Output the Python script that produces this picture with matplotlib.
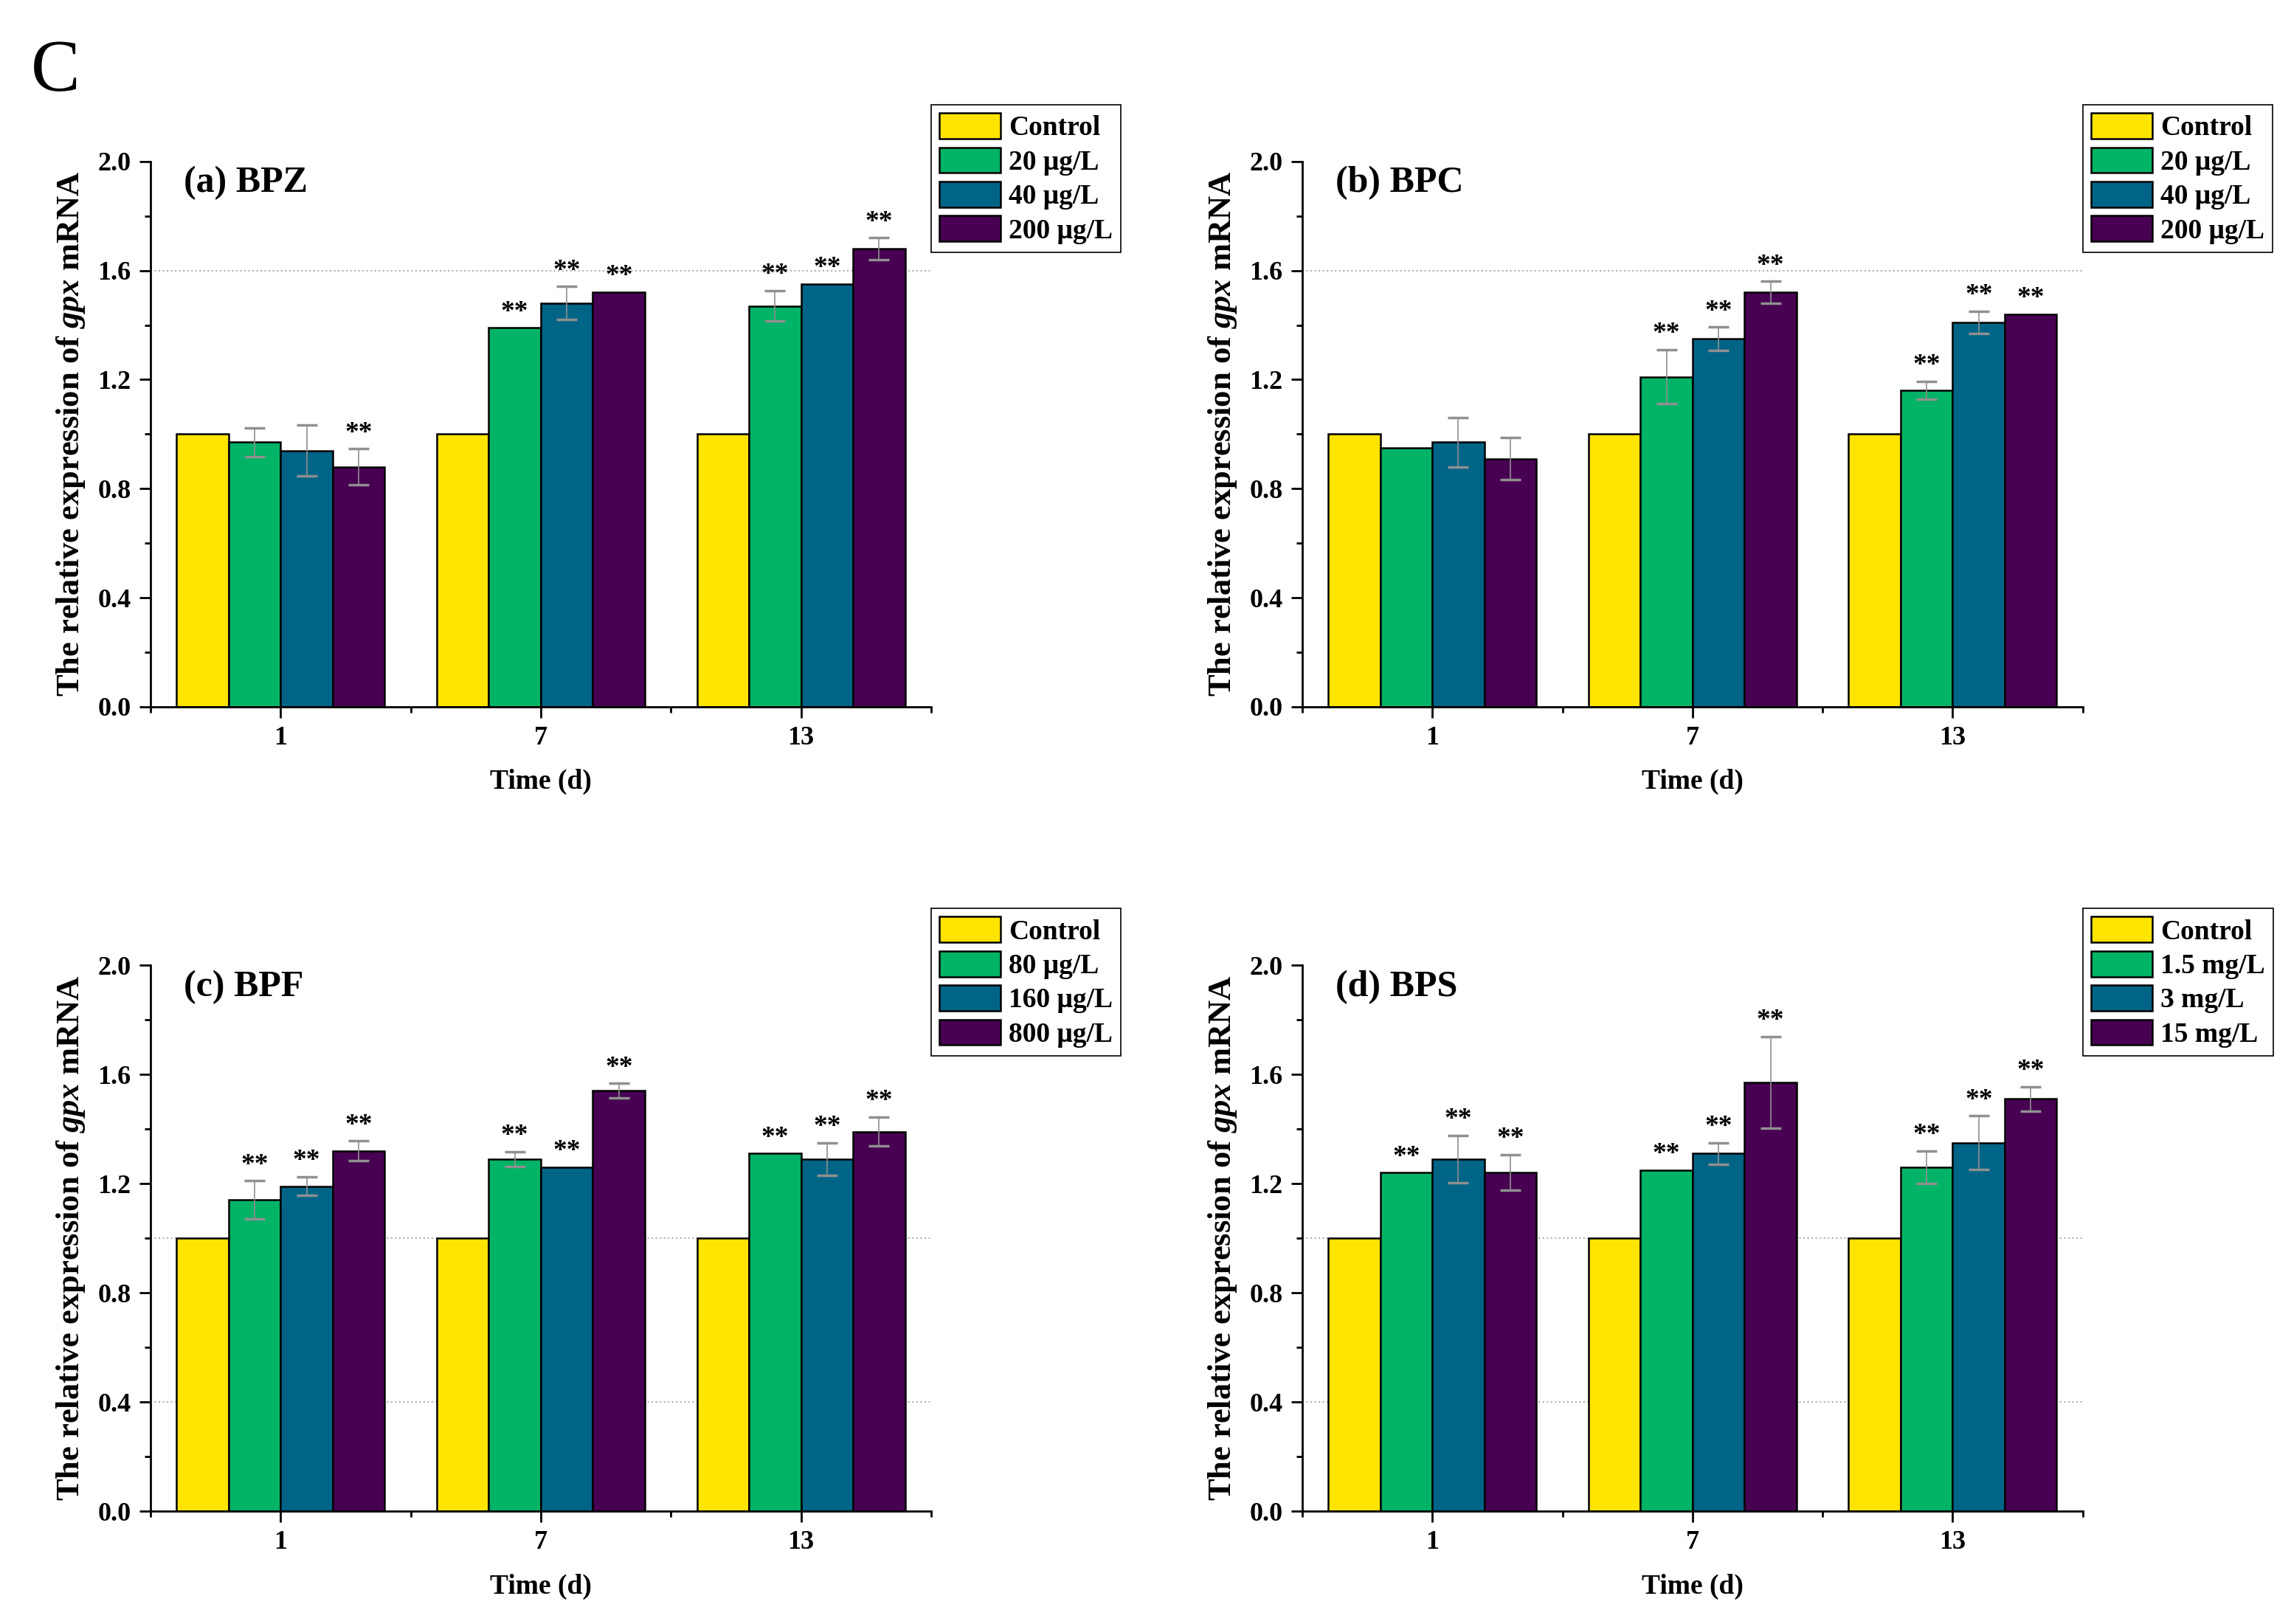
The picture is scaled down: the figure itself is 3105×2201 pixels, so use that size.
import numpy as np
import matplotlib.pyplot as plt

plt.rcParams['font.family'] = ['Liberation Serif', 'DejaVu Serif']
plt.rcParams['font.weight'] = 'bold'
plt.rcParams['mathtext.fontset'] = 'custom'
plt.rcParams['mathtext.it'] = 'Liberation Serif:bold:italic'
plt.rcParams['mathtext.rm'] = 'Liberation Serif:bold'

days = ['1', '7', '13']
colors = ['#FFE400', '#00B366', '#006487', '#480052']

# panel titles and legend labels
titles = ['(a) BPZ', '(b) BPC', '(c) BPF', '(d) BPS']
labels_a = ['Control', '20 μg/L', '40 μg/L', '200 μg/L']
labels_b = ['Control', '20 μg/L', '40 μg/L', '200 μg/L']
labels_c = ['Control', '80 μg/L', '160 μg/L', '800 μg/L']
labels_d = ['Control', '1.5 mg/L', '3 mg/L', '15 mg/L']

# rows = day 1, 7, 13 ; columns = control, low, mid, high
bpz_mean = [[1.00, 0.97, 0.94, 0.88], [1.00, 1.39, 1.48, 1.52], [1.00, 1.47, 1.55, 1.68]]
bpz_err = [[0, 0.052, 0.094, 0.066], [0, 0, 0.061, 0], [0, 0.056, 0, 0.04]]
bpz_sig = [[0, 0, 0, 1], [0, 1, 1, 1], [0, 1, 1, 1]]

bpc_mean = [[1.00, 0.95, 0.97, 0.91], [1.00, 1.21, 1.35, 1.52], [1.00, 1.16, 1.41, 1.44]]
bpc_err = [[0, 0, 0.09, 0.078], [0, 0.099, 0.042, 0.04], [0, 0.033, 0.04, 0]]
bpc_sig = [[0, 0, 0, 0], [0, 1, 1, 1], [0, 1, 1, 1]]

bpf_mean = [[1.00, 1.14, 1.19, 1.32], [1.00, 1.29, 1.26, 1.54], [1.00, 1.31, 1.29, 1.39]]
bpf_err = [[0, 0.07, 0.034, 0.036], [0, 0.027, 0, 0.027], [0, 0, 0.06, 0.053]]
bpf_sig = [[0, 1, 1, 1], [0, 1, 1, 1], [0, 1, 1, 1]]

bps_mean = [[1.00, 1.24, 1.29, 1.24], [1.00, 1.25, 1.31, 1.57], [1.00, 1.26, 1.35, 1.51]]
bps_err = [[0, 0, 0.087, 0.065], [0, 0, 0.04, 0.168], [0, 0.059, 0.098, 0.044]]
bps_sig = [[0, 1, 1, 1], [0, 1, 1, 1], [0, 1, 1, 1]]

panels = [
    (bpz_mean, bpz_err, bpz_sig, labels_a, [1.6]),
    (bpc_mean, bpc_err, bpc_sig, labels_b, [1.6]),
    (bpf_mean, bpf_err, bpf_sig, labels_c, [0.4, 1.0]),
    (bps_mean, bps_err, bps_sig, labels_d, [0.4, 1.0]),
]
positions = [
    [0.0657, 0.5648, 0.3407, 0.3358],
    [0.5684, 0.5648, 0.3407, 0.3358],
    [0.0657, 0.0695, 0.3407, 0.3362],
    [0.5684, 0.0695, 0.3407, 0.3362],
]

fig = plt.figure(figsize=(31.05, 22.01), dpi=100)
fig.text(0.0135, 0.9446, 'C', fontsize=72, fontweight='normal', va='baseline')

x = np.arange(len(days))
w = 0.2
for k, (mean, err, sig, labs, grid_y) in enumerate(panels):
    ax = fig.add_axes(positions[k])
    mean = np.array(mean)
    err = np.array(err)
    for g in grid_y:
        ax.axhline(g, color='#B0B0B0', ls=':', lw=1.5, zorder=0)
    for j in range(4):
        xs = x + (j - 1.5) * w
        ax.bar(xs, mean[:, j], width=w, color=colors[j], edgecolor='black',
               linewidth=1.8, label=labs[j], zorder=2)
        for i in range(3):
            if err[i, j] > 0:
                _, caps, _ = ax.errorbar(xs[i], mean[i, j], yerr=err[i, j], fmt='none',
                                         ecolor='#909090', elinewidth=1.2, capsize=10,
                                         capthick=2.5, zorder=3)
                for c in caps:
                    c.set_color('black')
            if sig[i][j]:
                ax.text(xs[i], mean[i, j] + err[i, j] + 0.01, '**', ha='center',
                        va='bottom', fontsize=27, zorder=4)

    ax.set_xlim(-0.5, 2.5)
    ax.set_ylim(0, 2.0)
    ax.set_xticks(x)
    ax.set_xticklabels(days)
    ax.set_xticks([-0.5, 0.5, 1.5, 2.5], minor=True)
    ax.set_yticks(np.arange(0, 2.01, 0.4))
    ax.set_yticks(np.arange(0.2, 2.0, 0.4), minor=True)
    ax.yaxis.set_major_formatter(plt.FormatStrFormatter('%.1f'))
    ax.spines['top'].set_visible(False)
    ax.spines['right'].set_visible(False)
    ax.spines['left'].set_linewidth(2)
    ax.spines['bottom'].set_linewidth(2)
    ax.tick_params(which='major', direction='out', length=11, width=2, labelsize=26, pad=8)
    ax.tick_params(which='minor', direction='out', length=6, width=2)
    ax.set_xlabel('Time (d)', fontsize=27, fontweight='bold', labelpad=18)
    ax.set_ylabel(r'The relative expression of $gpx$ mRNA', fontsize=32, fontweight='bold', labelpad=10)
    ax.text(0.043, 0.96, titles[k], transform=ax.transAxes, fontsize=36,
            fontweight='bold', va='center', ha='left')
    leg = ax.legend(loc='upper left', bbox_to_anchor=(1.0, 1.104), borderaxespad=0,
                    fontsize=27, handlelength=2.2, handleheight=1.05, labelspacing=0.22,
                    handletextpad=0.3, borderpad=0.3, fancybox=False, framealpha=1)
    leg.get_frame().set_edgecolor('black')
    leg.get_frame().set_linewidth(1.2)

fig.savefig('out.png', dpi=100)
